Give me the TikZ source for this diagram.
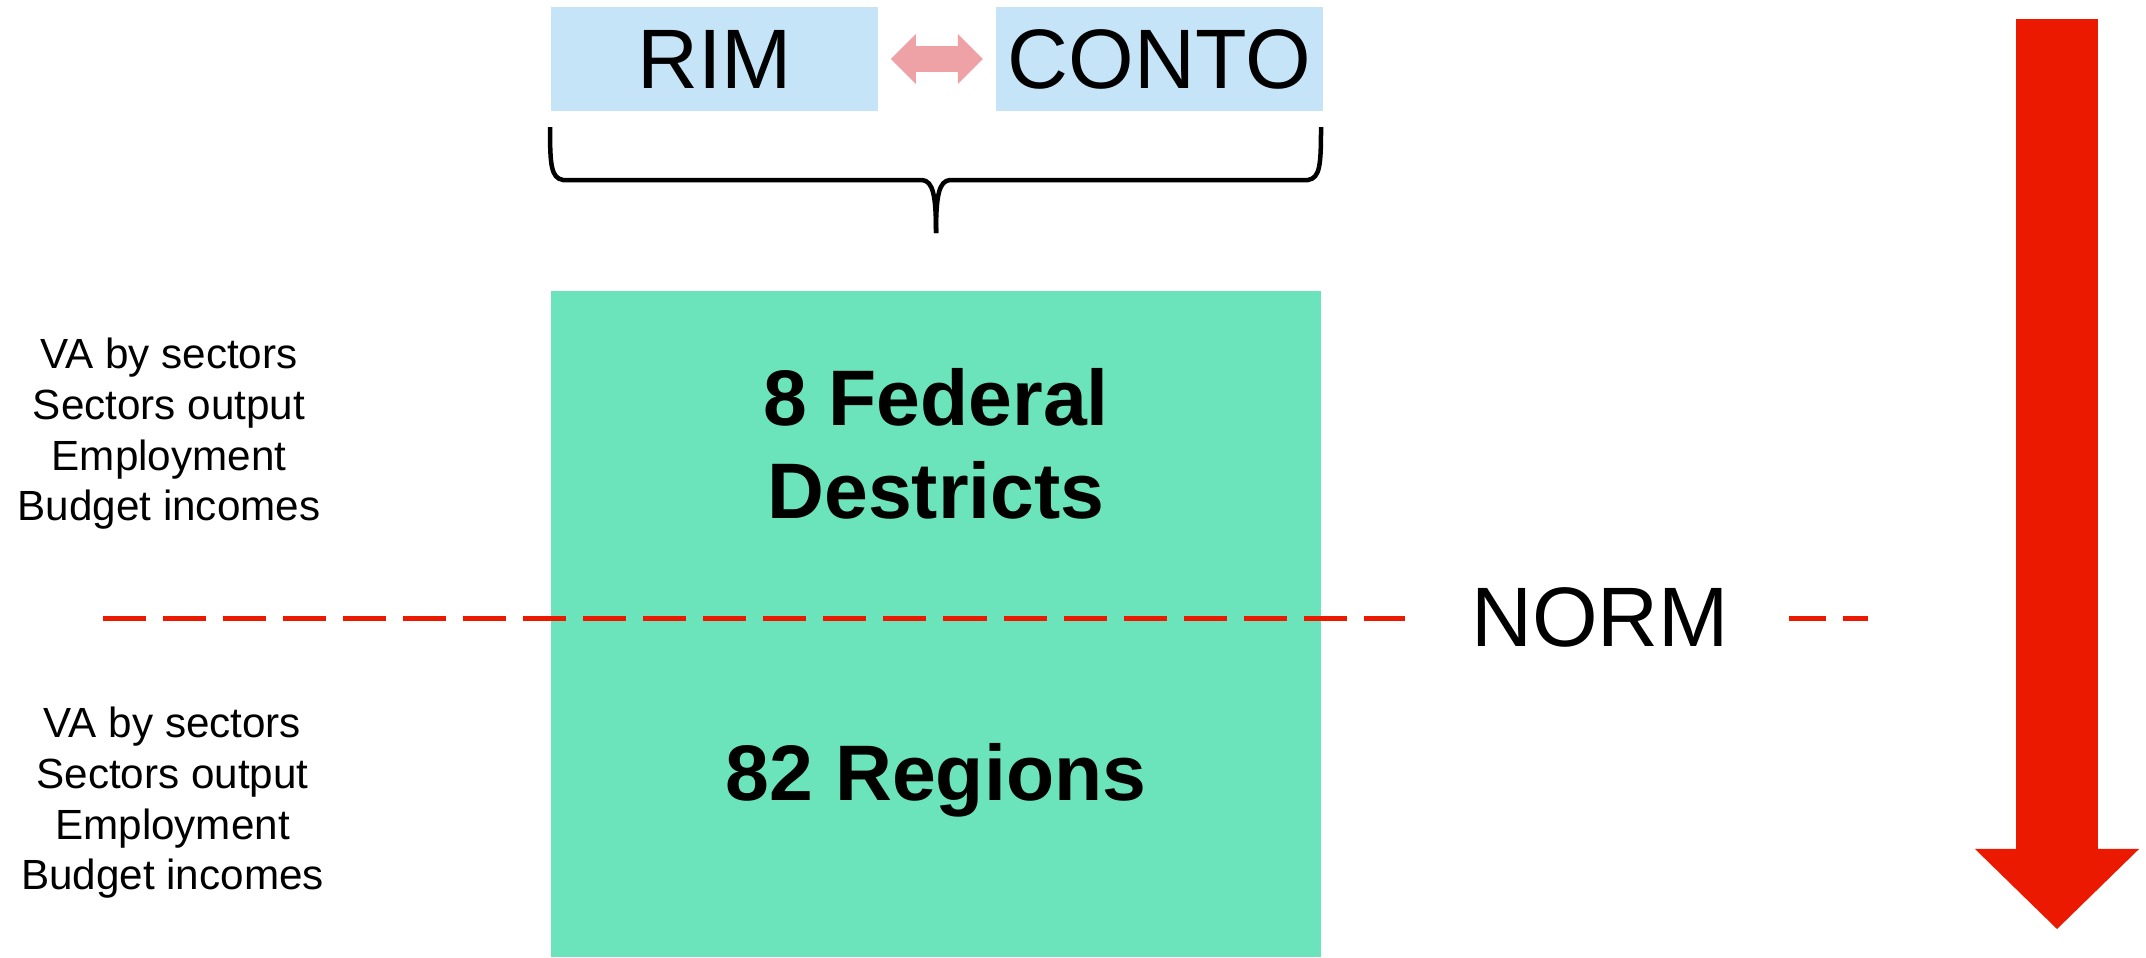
\documentclass[tikz,border=0pt]{standalone}
\usepackage{fontspec}
\setmainfont{Liberation Sans}
\usetikzlibrary{arrows.meta,positioning}
\definecolor{modelblue}{RGB}{197,228,247}
\definecolor{levelgreen}{RGB}{107,227,187}
\definecolor{normred}{RGB}{235,25,0}
\definecolor{linkpink}{RGB}{238,162,166}
\begin{document}
\begin{tikzpicture}[x=0.01cm,y=-0.01cm,
	model/.style={fill=modelblue,minimum width=3.27cm,minimum height=1.04cm,inner sep=0pt,font=\fontsize{24}{28}\selectfont},
	level/.style={fill=levelgreen,minimum width=7.7cm,minimum height=6.66cm,inner sep=0pt},
	levelname/.style={align=center,inner sep=0pt,font=\fontsize{22.4}{26.5}\selectfont\bfseries},
	indicators/.style={align=center,inner sep=0pt,font=\fontsize{12}{14.4}\selectfont},
	link/.style={draw=linkpink,line width=0.26cm,{Triangle[length=0.25cm,width=0.5cm,line width=0pt]}-{Triangle[length=0.25cm,width=0.5cm,line width=0pt]}},
	cut/.style={draw=normred,line width=0.05cm,dash pattern=on 0.43cm off 0.17cm},
	flow/.style={draw=normred,line width=0.82cm,-{Triangle[length=0.8cm,width=1.64cm,line width=0pt]}},
	bracket/.style={line width=0.045cm}]
	\useasboundingbox (0,0) rectangle (2146,957);
	% models on top
	\node[model] (rim) at (714.5,59) {RIM};
	\node[model,right=1.16cm of rim] (conto) {CONTO};
	\draw[link] ([xshift=0.12cm]rim.east) -- ([xshift=-0.12cm]conto.west);
	% brace
	\draw[bracket] (550,127) .. controls (550,165) and (551,178) .. (563,180) -- (922,180) .. controls (933,181) and (936,195) .. (936,233);
	\draw[bracket] (1321,127) .. controls (1321,165) and (1320,178) .. (1308,180) -- (950,180) .. controls (939,181) and (936,195) .. (936,233);
	% levels
	\node[level] (levels) at (936,624) {};
	\coordinate (cut start) at (103,618);
	\coordinate (cut end) at (1868,618);
	\node[anchor=base,inner ysep=0pt,inner xsep=0.65cm,font=\fontsize{24}{28}\selectfont] (norm) at (1600,646) {NORM};
	\draw[cut] (cut start) -- (norm.west |- cut start);
	\draw[cut,dash phase=0.06cm] ([xshift=-0.06cm]norm.east |- cut end) -- (cut end);
	\node[levelname] (federal) at (936,443.5) {8 Federal\\Destricts};
	\node[levelname,anchor=base] (regions) at (936,800) {82 Regions};
	\node[indicators] (federal data) at (169,434) {VA by sectors\\Sectors output\\Employment\\Budget incomes};
	\node[indicators] (regions data) at (172.5,803) {VA by sectors\\Sectors output\\Employment\\Budget incomes};
	% top-down arrow
	\coordinate (flow top) at (2057,19);
	\coordinate (flow end) at (2057,929);
	\draw[flow] (flow top) -- (flow end);
\end{tikzpicture}
\end{document}
